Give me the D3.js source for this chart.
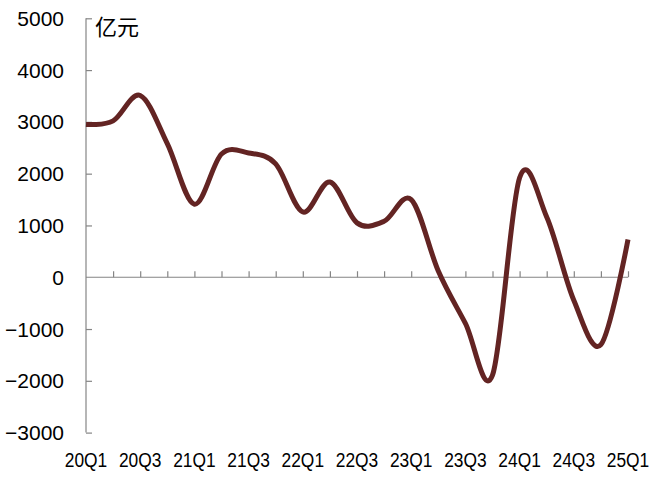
<!DOCTYPE html>
<html>
<head>
<meta charset="utf-8">
<script src="https://cdn.jsdelivr.net/npm/d3@7"></script>
<style>
  html, body { margin: 0; padding: 0; background: #fff; }
  svg { display: block; }
</style>
</head>
<body>
<svg id="chart" width="657" height="485"></svg>
<script>
const quarters = ["20Q1","20Q2","20Q3","20Q4","21Q1","21Q2","21Q3","21Q4","22Q1","22Q2","22Q3","22Q4","23Q1","23Q2","23Q3","23Q4","24Q1","24Q2","24Q3","24Q4","25Q1"];
const values = [2950, 3020, 3510, 2580, 1410, 2380, 2400, 2190, 1260, 1840, 1050, 1080, 1500, 120, -890, -1890, 1920, 1165, -445, -1300, 730];
const yTicks = [-3000, -2000, -1000, 0, 1000, 2000, 3000, 4000, 5000];
const xLabelEvery = 2;
const unitLabel = "亿元";

const svg = d3.select("#chart");
const plotLeft = 86, plotRight = 628, plotTop = 18.3, plotBottom = 432.6;

const x = d3.scalePoint().domain(quarters).range([plotLeft, plotRight]);
const y = d3.scaleLinear().domain([-3000, 5000]).range([plotBottom, plotTop]);

const axisColor = "#858585";
const fontLatin = "'Liberation Sans', Arial, sans-serif";

// Y axis
const yAxis = d3.axisRight(y).tickValues(yTicks).tickSize(6).tickFormat("");
const gy = svg.append("g").attr("transform", `translate(${plotLeft},0)`).call(yAxis);
gy.select(".domain").attr("stroke", axisColor).attr("stroke-width", 1.2).attr("d", `M0,${plotTop}V${plotBottom}`);
gy.selectAll(".tick line").attr("stroke", axisColor).attr("stroke-width", 1.2)
  .filter(d => d === 0).remove();

// Y labels
svg.append("g").selectAll("text").data(yTicks).join("text")
  .attr("x", 64).attr("y", d => y(d)).attr("dy", "0.36em")
  .attr("text-anchor", "end")
  .style("font-family", fontLatin).style("font-size", "21px").attr("fill", "#000")
  .text(d => d < 0 ? "\u2212" + Math.abs(d) : String(d));

// X axis at zero
const xAxis = d3.axisTop(x).tickValues(quarters.slice(1)).tickSize(6).tickFormat("");
const gx = svg.append("g").attr("transform", `translate(0,${y(0)})`).call(xAxis);
gx.select(".domain").attr("stroke", axisColor).attr("stroke-width", 1.2).attr("d", `M${plotLeft},0H${plotRight}`);
gx.selectAll(".tick line").attr("stroke", axisColor).attr("stroke-width", 1.2);

// X labels
svg.append("g").selectAll("text").data(quarters.filter((q, i) => i % xLabelEvery === 0)).join("text")
  .attr("x", d => x(d)).attr("y", 467)
  .attr("text-anchor", "middle")
  .attr("textLength", 42.5).attr("lengthAdjust", "spacingAndGlyphs")
  .style("font-family", fontLatin).style("font-size", "19.5px").attr("fill", "#000")
  .text(d => d);

// Unit label
svg.append("text").attr("x", 95).attr("y", 35)
  .style("font-family", "'Noto Sans CJK SC', sans-serif").style("font-size", "22px").attr("fill", "#000")
  .text(unitLabel);

// Line
const line = d3.line()
  .x((d, i) => x(quarters[i]))
  .y(d => y(d))
  .curve(d3.curveCardinal.tension(0));

svg.append("path").datum(values)
  .attr("d", line)
  .attr("fill", "none")
  .attr("stroke", "#632423")
  .attr("stroke-width", 5)
  .attr("stroke-linejoin", "round");
</script>
</body>
</html>
